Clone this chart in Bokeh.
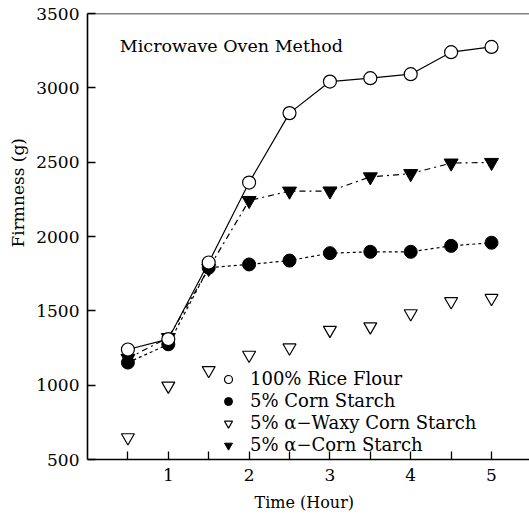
from bokeh.plotting import figure
from bokeh.models import Range1d, FixedTicker, Span, Label, Legend, LegendItem, Title
from bokeh.embed import file_html
from bokeh.resources import INLINE

hours = [0.5, 1.0, 1.5, 2.0, 2.5, 3.0, 3.5, 4.0, 4.5, 5.0]
rice_flour = [1240, 1310, 1825, 2363, 2830, 3042, 3065, 3092, 3240, 3275]
corn_starch = [1152, 1275, 1790, 1812, 1838, 1888, 1897, 1897, 1937, 1958]
waxy_corn = [648, 995, 1100, 1203, 1252, 1370, 1394, 1482, 1563, 1585]
alpha_corn = [1180, 1320, 1785, 2242, 2305, 2306, 2401, 2423, 2494, 2498]

x_ticks = [1, 2, 3, 4, 5]
x_minor = [0.5, 1.5, 2.5, 3.5, 4.5]
y_ticks = [500, 1000, 1500, 2000, 2500, 3000, 3500]

FONT = "DejaVu Serif"

p = figure(width=529, height=519, output_backend="svg", toolbar_location=None,
           x_range=Range1d(0, 5.47), y_range=Range1d(500, 3500),
           min_border_left=86, min_border_right=0, min_border_top=13, min_border_bottom=60)
p.outline_line_color = None
p.grid.visible = False
p.background_fill_color = "white"
p.border_fill_color = "white"

for ax in (p.xaxis[0], p.yaxis[0]):
    ax.axis_line_color = "black"
    ax.axis_line_width = 1.6
    ax.major_tick_in = 8
    ax.major_tick_out = 0
    ax.minor_tick_in = 8
    ax.minor_tick_out = 0
    ax.major_tick_line_width = 1.3
    ax.minor_tick_line_width = 1.3
    ax.major_label_text_font = FONT
    ax.major_label_text_font_size = "17px"
    ax.major_label_text_color = "black"

p.xaxis[0].ticker = FixedTicker(ticks=x_ticks, minor_ticks=x_minor)
p.yaxis[0].ticker = FixedTicker(ticks=y_ticks, minor_ticks=[])
p.xaxis[0].major_label_standoff = 9
p.yaxis[0].major_label_standoff = 8

p.add_layout(Title(text="Time (Hour)", align="left", offset=167, standoff=14,
                   text_font=FONT, text_font_size="16px", text_font_style="normal",
                   text_color="black"), "below")
p.add_layout(Title(text="Firmness (g)", align="left", offset=212, standoff=11,
                   text_font=FONT, text_font_size="17px", text_font_style="normal",
                   text_color="black"), "left")

p.add_layout(Span(location=3500, dimension="width", line_color="black", line_width=1.6))

p.line(hours, rice_flour, line_color="black", line_width=1.2)
p.line(hours, corn_starch, line_color="black", line_width=1.2, line_dash="3 3")
p.line(hours, alpha_corn, line_color="black", line_width=1.2, line_dash="6 4 2 4")

r_alpha = p.scatter(hours, alpha_corn, marker="inverted_triangle", size=14,
                    fill_color="black", line_color="black")
r_corn = p.scatter(hours, corn_starch, marker="circle", size=13,
                   fill_color="black", line_color="black")
r_waxy = p.scatter(hours, waxy_corn, marker="inverted_triangle", size=13,
                   fill_color="white", line_color="black", line_width=1.2)
r_rice = p.scatter(hours, rice_flour, marker="circle", size=13,
                   fill_color="white", line_color="black", line_width=1.2)

legend = Legend(items=[
    LegendItem(label="100% Rice Flour", renderers=[r_rice]),
    LegendItem(label="5% Corn Starch", renderers=[r_corn]),
    LegendItem(label="5% \u03b1\u2212Waxy Corn Starch", renderers=[r_waxy]),
    LegendItem(label="5% \u03b1\u2212Corn Starch", renderers=[r_alpha]),
], location=(131, 4))
legend.border_line_color = None
legend.background_fill_alpha = 0
legend.label_text_font = FONT
legend.label_text_font_size = "18px"
legend.label_text_color = "black"
legend.glyph_width = 20
legend.glyph_height = 20
legend.label_height = 21
legend.spacing = 1
legend.padding = 2
legend.label_standoff = 12
p.add_layout(legend)

p.add_layout(Label(x=0.4, y=3280, text="Microwave Oven Method", text_font=FONT,
                   text_font_size="17.5px", text_baseline="middle", text_color="black"))

open("out.html", "w").write(file_html(p, INLINE))
